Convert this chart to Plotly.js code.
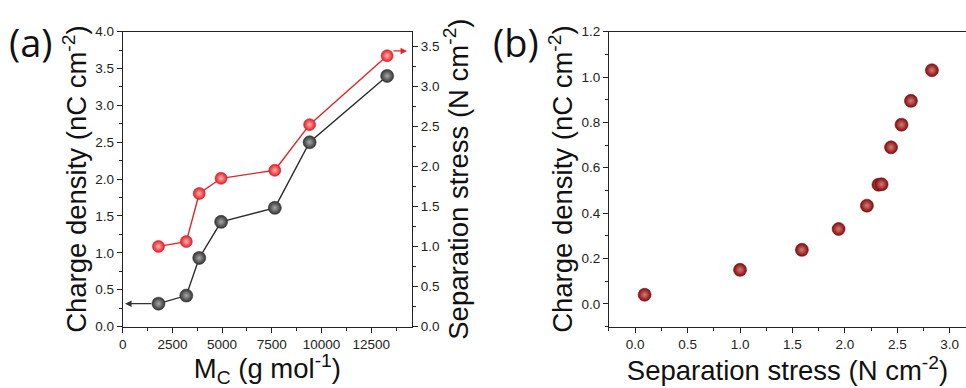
<!DOCTYPE html>
<html>
<head>
<meta charset="utf-8">
<script src="https://cdn.plot.ly/plotly-3.0.1.min.js"></script>
<style>
  html, body { margin: 0; padding: 0; background: #ffffff; }
  #chart { width: 966px; height: 388px; }
</style>
</head>
<body>
<div id="chart"></div>
<script>
// Panel (a): crosslink molecular weight vs. charge density and separation stress
const molWeight = [1800, 3200, 3850, 4950, 7650, 9400, 13300];
const chargeDensityA = [0.31, 0.42, 0.93, 1.42, 1.61, 2.50, 3.40];
const separationStressA = [1.00, 1.06, 1.66, 1.85, 1.95, 2.52, 3.38];

// Panel (b): charge density vs. separation stress
const separationStressB = [0.09, 1.00, 1.59, 1.94, 2.21, 2.32, 2.35, 2.44, 2.54, 2.63, 2.83];
const chargeDensityB = [0.04, 0.15, 0.238, 0.33, 0.433, 0.525, 0.527, 0.69, 0.79, 0.895, 1.03];

const sans = 'Liberation Sans';
const tickFont = { family: sans, size: 13.5, color: '#222' };
const titleFont = { family: sans, size: 27.5, color: '#111' };
const axisLine = { showline: true, linecolor: '#222', linewidth: 1, ticks: 'outside',
  ticklen: 5, tickwidth: 1, tickcolor: '#222', showgrid: false, zeroline: false, tickfont: tickFont };

const sphere = (base, light, size) => ({
  size: size, color: base,
  gradient: { type: 'radial', color: light },
  line: { width: 0.6, color: base }
});

const traces = [
  {
    x: molWeight, y: chargeDensityA, xaxis: 'x', yaxis: 'y',
    type: 'scatter', mode: 'lines+markers',
    line: { color: '#2b2b2b', width: 1.4 },
    marker: sphere('#333333', '#a8a8a8', 13)
  },
  {
    x: molWeight, y: separationStressA, xaxis: 'x', yaxis: 'y2',
    type: 'scatter', mode: 'lines+markers',
    line: { color: '#e0262b', width: 1.4 },
    marker: sphere('#df1f25', '#ffb0b0', 12)
  },
  {
    x: separationStressB, y: chargeDensityB, xaxis: 'x2', yaxis: 'y3',
    type: 'scatter', mode: 'markers',
    marker: sphere('#820c0c', '#d87a7a', 13)
  }
];

const layout = {
  width: 966, height: 388,
  margin: { l: 0, r: 0, t: 0, b: 0 },
  paper_bgcolor: '#ffffff', plot_bgcolor: '#ffffff',
  showlegend: false,
  font: { family: sans },
  xaxis: Object.assign({}, axisLine, {
    domain: [0.127, 0.4265], range: [0, 14550], anchor: 'y',
    dtick: 2500, tick0: 0, tickformat: 'd', mirror: true,
    minor: { ticks: 'outside', ticklen: 3, dtick: 1250, tickcolor: '#222' },
    title: { text: 'M<sub>C</sub> (g mol<sup>-1</sup>)', font: titleFont, standoff: 2 }
  }),
  yaxis: Object.assign({}, axisLine, {
    domain: [0.1585, 0.9183], range: [0, 4], anchor: 'x',
    dtick: 0.5, tickformat: '.1f',
    minor: { ticks: 'outside', ticklen: 3, dtick: 0.25, tickcolor: '#222' },
    title: { text: 'Charge density (nC cm<sup>-2</sup>)', font: titleFont, standoff: 0 }
  }),
  yaxis2: Object.assign({}, axisLine, {
    overlaying: 'y', side: 'right', anchor: 'x',
    range: [0, 3.68], dtick: 0.5, tickformat: '.1f',
    minor: { ticks: 'outside', ticklen: 3, dtick: 0.25, tickcolor: '#222' },
    title: { text: 'Separation stress (N cm<sup>-2</sup>)', font: titleFont, standoff: 0 }
  }),
  xaxis2: Object.assign({}, axisLine, {
    domain: [0.6304, 1], range: [-0.25, 3.155], anchor: 'y3',
    dtick: 0.5, tick0: 0, tickformat: '.1f', mirror: true,
    minor: { ticks: 'outside', ticklen: 3, dtick: 0.25, tickcolor: '#222' },
    title: { text: 'Separation stress (N cm<sup>-2</sup>)', font: titleFont, standoff: 0 }
  }),
  yaxis3: Object.assign({}, axisLine, {
    domain: [0.1585, 0.9183], range: [-0.1, 1.2], anchor: 'x2',
    dtick: 0.2, tick0: 0, tickformat: '.1f',
    minor: { ticks: 'outside', ticklen: 3, dtick: 0.1, tickcolor: '#222' },
    title: { text: 'Charge density (nC cm<sup>-2</sup>)', font: titleFont, standoff: 0 }
  }),
  annotations: [
    // arrow pointing to the left axis for the charge density series
    { xref: 'x', yref: 'y', axref: 'x', ayref: 'y',
      x: 120, y: chargeDensityA[0], ax: 1520, ay: chargeDensityA[0],
      text: '', showarrow: true, arrowhead: 2, arrowsize: 1, arrowwidth: 1.3, arrowcolor: '#333' },
    // arrow pointing to the right axis for the separation stress series
    { xref: 'x', yref: 'y2', axref: 'x', ayref: 'y2',
      x: 14300, y: separationStressA[6] + 0.06, ax: 13540, ay: separationStressA[6] + 0.06,
      text: '', showarrow: true, arrowhead: 2, arrowsize: 1, arrowwidth: 1.3, arrowcolor: '#e0262b' },
    { xref: 'paper', yref: 'paper', x: 0.007, y: 0.965, xanchor: 'left', yanchor: 'top',
      text: '(a)', showarrow: false,
      font: { family: 'Open Sans', size: 38, color: '#111' } },
    { xref: 'paper', yref: 'paper', x: 0.508, y: 0.965, xanchor: 'left', yanchor: 'top',
      text: '(b)', showarrow: false,
      font: { family: 'Open Sans', size: 38, color: '#111' } }
  ]
};

Plotly.newPlot('chart', traces, layout, { staticPlot: true, displayModeBar: false });
</script>
</body>
</html>
